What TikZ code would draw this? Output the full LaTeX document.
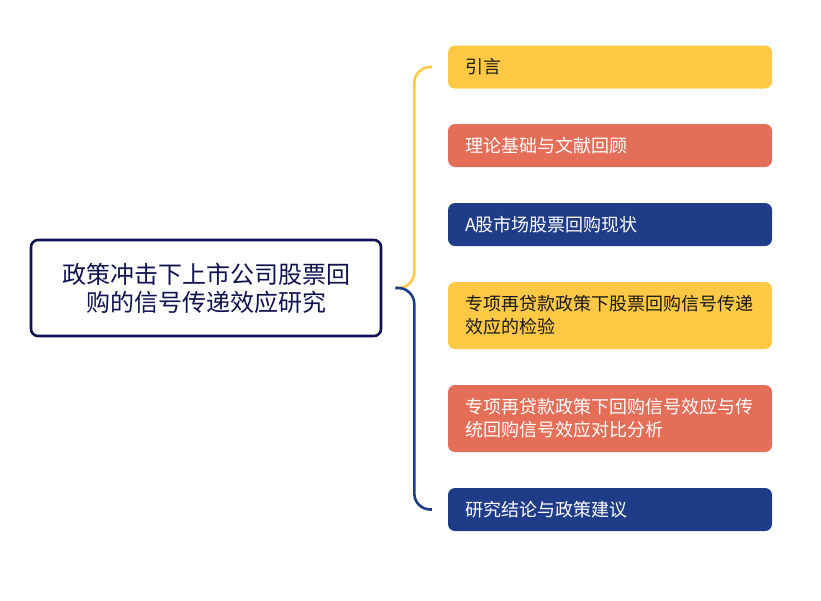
\documentclass[tikz,border=0pt]{standalone}
\usepackage{fontspec}
\setmainfont{Noto Sans CJK SC}
\definecolor{boxyellow}{HTML}{FFC845}
\definecolor{boxred}{HTML}{E46E58}
\definecolor{boxblue}{HTML}{1F3C88}
\definecolor{rootblue}{HTML}{10124F}
\tikzset{
    box/.style={rounded corners=7pt,minimum width=324pt,text width=290pt,inner xsep=17pt,
        align=left,font=\fontsize{18}{23}\selectfont},
    yelbox/.style={box,fill=boxyellow,text=black!90},
    redbox/.style={box,fill=boxred,text=white},
    bluebox/.style={box,fill=boxblue,text=white},
}
\begin{document}
\begin{tikzpicture}[x=1pt,y=-1pt]
\useasboundingbox (0,0) rectangle (821,600);
\node[draw=rootblue,line width=2.6pt,rounded corners=7pt,fill=white,text=rootblue,
    minimum width=350pt,minimum height=96pt,align=center,
    font=\fontsize{24}{28}\selectfont] (t) at (206,288) {政策冲击下上市公司股票回\\购的信号传递效应研究};
\foreach \y/\c/\t/\h[count=\i] in {67/yelbox/{引言}/43,
    145.5/redbox/{理论基础与文献回顾}/43,
    224.5/bluebox/{A股市场股票回购现状}/43,
    315.5/yelbox/{专项再贷款政策下股票回购信号传递\\效应的检验}/67,
    418.5/redbox/{专项再贷款政策下回购信号效应与传\\统回购信号效应对比分析}/67,
    509.5/bluebox/{研究结论与政策建议}/43} {
    \node[\c,minimum height=\h pt] (s\i) at (610,\y) {\t};
}
\coordinate (c0) at ([xshift=13pt]t.east);
\coordinate (m) at ([xshift=32pt]t.east);
\coordinate (c1) at ([xshift=-16pt]s1.west);
\coordinate (c6) at ([xshift=-16pt]s6.west);
\draw[boxyellow,line width=2.6pt,rounded corners=16pt] (c0) -- (m) |- (c1);
\draw[boxblue,line width=2.6pt,rounded corners=16pt] (c0) -- (m) |- (c6);
\end{tikzpicture}
\end{document}
